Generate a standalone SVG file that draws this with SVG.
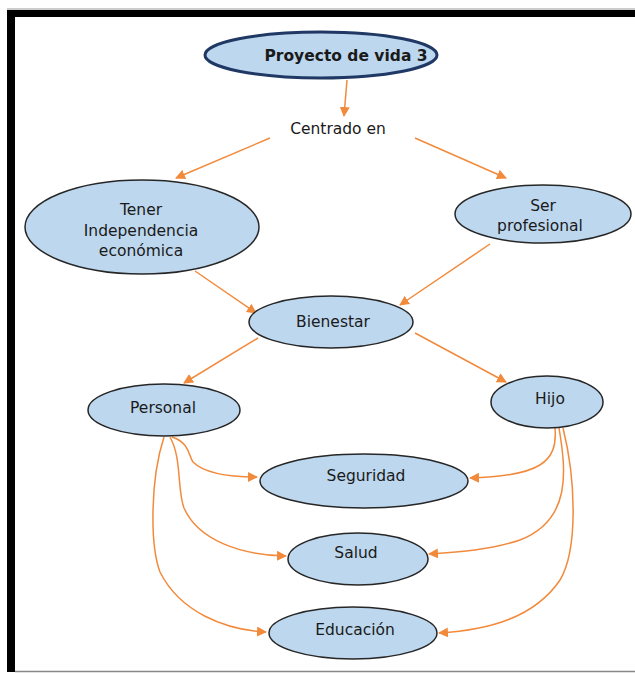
<svg xmlns="http://www.w3.org/2000/svg" width="635" height="673" viewBox="0 0 635 673">
<style>
.n{fill:#BDD7EE;stroke:#262626;stroke-width:1.5}
.t{font-family:"DejaVu Sans",sans-serif;font-size:15.5px;fill:#1a1a1a;text-anchor:middle}
.c path{fill:none;stroke:#F28A3C;stroke-width:1.5}
</style>
<defs>
<marker id="a" viewBox="0 0 10 10" refX="9" refY="5" markerWidth="10" markerHeight="10" markerUnits="userSpaceOnUse" orient="auto">
<path d="M0,0 L10,5 L0,10 z" fill="#F28A3C"/>
</marker>
</defs>
<rect x="0" y="0" width="635" height="673" fill="#fff"/>
<g id="frame">
<line x1="7" y1="9" x2="635" y2="9" stroke="#999" stroke-width="1"/>
<rect x="7" y="10" width="628" height="7" fill="#000"/>
<rect x="7" y="10" width="8" height="662" fill="#000"/>
<line x1="15" y1="671.5" x2="635" y2="671.5" stroke="#888" stroke-width="1.5"/>
</g>
<g class="c" id="connectors">
<path d="M347,80 L344,116" marker-end="url(#a)"/>
<path d="M270,138 L176,178" marker-end="url(#a)"/>
<path d="M415,138 L506,178" marker-end="url(#a)"/>
<path d="M195,271 L256,313" marker-end="url(#a)"/>
<path d="M490,244 L400,305" marker-end="url(#a)"/>
<path d="M258,338 L184,383" marker-end="url(#a)"/>
<path d="M415,333 L506,382" marker-end="url(#a)"/>
<path d="M172,437 C190,443 188,455 193,462 C205,474 230,477 257,477" marker-end="url(#a)"/>
<path d="M170,437 C182,458 177,490 184,508 C198,540 240,555 286,556" marker-end="url(#a)"/>
<path d="M164,437 C150,480 150,545 160,572 C180,612 225,630 266,632" marker-end="url(#a)"/>
<path d="M555,428 C558,462 540,476 470,478" marker-end="url(#a)"/>
<path d="M559,428 C566,470 572,520 520,540 C490,550 460,552 429,554" marker-end="url(#a)"/>
<path d="M563,428 C576,480 578,550 560,580 C535,617 490,630 439,633" marker-end="url(#a)"/>
</g>
<g id="proyecto">
<ellipse cx="321" cy="55" rx="116" ry="23" fill="#BDD7EE" stroke="#1F3864" stroke-width="3"/>
<text class="t" x="346" y="61" style="font-weight:bold">Proyecto de vida 3</text>
</g>
<g id="centrado">
<text class="t" x="338" y="134">Centrado en</text>
</g>
<g id="tener">
<ellipse class="n" cx="142" cy="227" rx="117" ry="47"/>
<text class="t" x="141" y="215">Tener</text>
<text class="t" x="141" y="236">Independencia</text>
<text class="t" x="141" y="256">económica</text>
</g>
<g id="ser">
<ellipse class="n" cx="543" cy="214" rx="88" ry="29"/>
<text class="t" x="543" y="211">Ser</text>
<text class="t" x="540" y="231">profesional</text>
</g>
<g id="bienestar">
<ellipse class="n" cx="331" cy="322" rx="82" ry="26"/>
<text class="t" x="333" y="327">Bienestar</text>
</g>
<g id="personal">
<ellipse class="n" cx="164" cy="410" rx="76" ry="26"/>
<text class="t" x="163" y="413">Personal</text>
</g>
<g id="hijo">
<ellipse class="n" cx="547" cy="402" rx="56" ry="26"/>
<text class="t" x="550" y="404">Hijo</text>
</g>
<g id="seguridad">
<ellipse class="n" cx="364" cy="481" rx="104" ry="27"/>
<text class="t" x="366" y="481">Seguridad</text>
</g>
<g id="salud">
<ellipse class="n" cx="358" cy="559" rx="70" ry="26"/>
<text class="t" x="356" y="558">Salud</text>
</g>
<g id="educacion">
<ellipse class="n" cx="353" cy="633" rx="84" ry="26"/>
<text class="t" x="355" y="635">Educación</text>
</g>
</svg>
